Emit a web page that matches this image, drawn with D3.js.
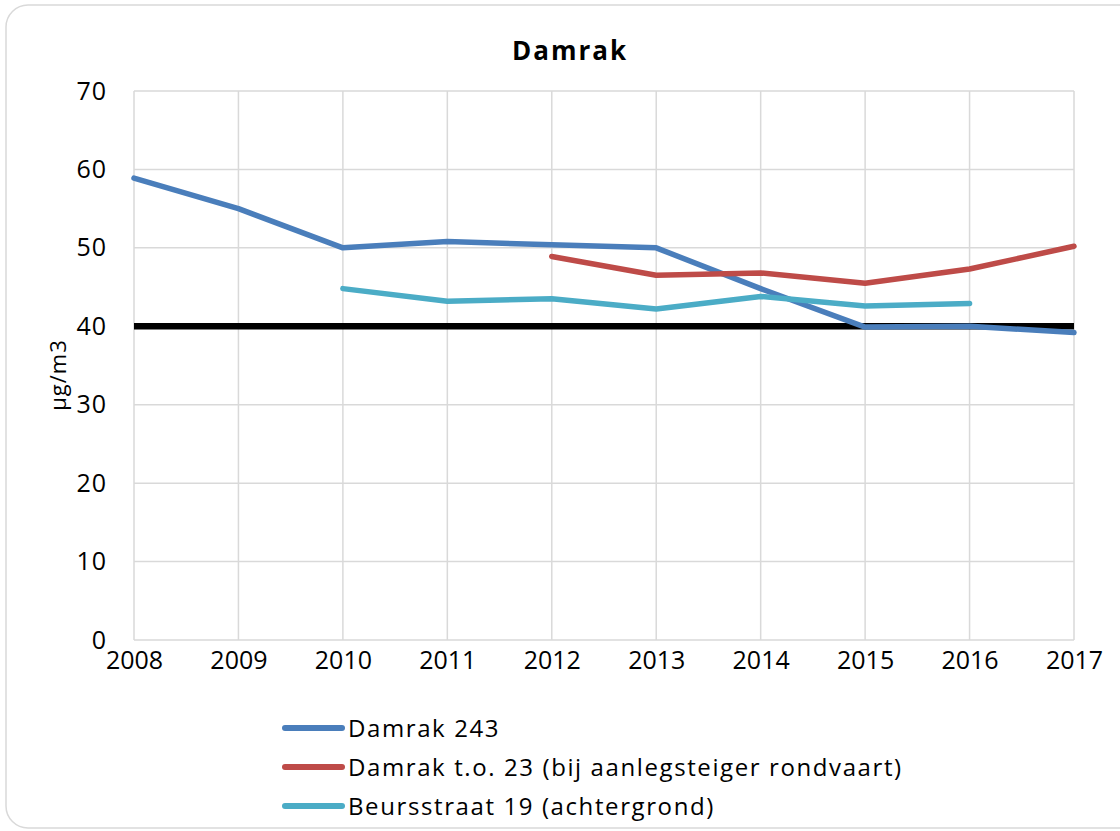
<!DOCTYPE html>
<html>
<head>
<meta charset="utf-8">
<script src="https://cdn.jsdelivr.net/npm/d3@7"></script>
<style>
  body { margin: 0; background: #fff; }
  text { font-family: "Open Sans", "Noto Sans", sans-serif; fill: #000; }
</style>
</head>
<body>
<div id="chart"></div>
<script>
// data
var years = [2008, 2009, 2010, 2011, 2012, 2013, 2014, 2015, 2016, 2017];
var damrak243 = [58.9, 55.0, 50.0, 50.8, 50.4, 50.0, 44.8, 39.9, 40.0, 39.2];
var damrakTo23 = [null, null, null, null, 48.9, 46.5, 46.8, 45.5, 47.3, 50.2];
var beursstraat19 = [null, null, 44.8, 43.2, 43.5, 42.2, 43.8, 42.6, 42.9, null];
var yTicks = [0, 10, 20, 30, 40, 50, 60, 70];
var limitValue = 40;

var seriesNames = ["Damrak 243", "Damrak t.o. 23 (bij aanlegsteiger rondvaart)", "Beursstraat 19 (achtergrond)"];
var seriesColors = ["#4a7ebb", "#be4b48", "#4bacc6"];
var seriesValues = [damrak243, damrakTo23, beursstraat19];

var W = 1120, H = 831;
var margin = {top: 91, right: 46, bottom: 191, left: 134},
    width = W - margin.left - margin.right,
    height = H - margin.top - margin.bottom;

var svg = d3.select("#chart")
  .append("svg")
    .attr("width", W)
    .attr("height", H);

// outer chart frame
svg.append("rect")
  .attr("x", 6).attr("y", 5)
  .attr("width", W + 20).attr("height", H - 8)
  .attr("rx", 22)
  .attr("fill", "#fff")
  .attr("stroke", "#d9d9d9")
  .attr("stroke-width", 1.5);

var chartGroup = svg.append("g")
  .attr("transform", `translate(${margin.left}, ${margin.top})`);

var x = d3.scaleLinear()
  .domain([years[0], years[years.length - 1]])
  .range([0, width]);

var y = d3.scaleLinear()
  .domain([0, 70])
  .range([height, 0]);

// gridlines
chartGroup.append("g")
  .selectAll("line.h")
  .data(yTicks)
  .enter()
  .append("line")
    .attr("x1", 0).attr("x2", width)
    .attr("y1", d => y(d)).attr("y2", d => y(d))
    .attr("stroke", "#d9d9d9").attr("stroke-width", 1.5);

chartGroup.append("g")
  .selectAll("line.v")
  .data(years)
  .enter()
  .append("line")
    .attr("x1", d => x(d)).attr("x2", d => x(d))
    .attr("y1", 0).attr("y2", height)
    .attr("stroke", "#d9d9d9").attr("stroke-width", 1.5);

// axes (labels only, lines come from the grid)
var leftAxis = d3.axisLeft(y).tickValues(yTicks).tickSize(0).tickPadding(27);
var bottomAxis = d3.axisBottom(x).tickValues(years).tickFormat(d3.format("d")).tickSize(0).tickPadding(11);

var yAxisG = chartGroup.append("g").call(leftAxis);
var xAxisG = chartGroup.append("g")
  .attr("transform", `translate(0, ${height})`)
  .call(bottomAxis);

[yAxisG, xAxisG].forEach(function(g) {
  g.select(".domain").remove();
  g.selectAll("text")
    .style("font-family", "'Open Sans', 'Noto Sans', sans-serif")
    .style("font-size", "25px")
    .attr("fill", "#000");
});
yAxisG.selectAll("text").style("letter-spacing", "1px");

// limit line at 40
chartGroup.append("line")
  .attr("x1", 0).attr("x2", width)
  .attr("y1", y(limitValue)).attr("y2", y(limitValue))
  .attr("stroke", "#000")
  .attr("stroke-width", 6.5);

// series lines
var line = d3.line()
  .defined(d => d.v != null)
  .x(d => x(d.year))
  .y(d => y(d.v));

seriesValues.forEach(function(vals, i) {
  var pts = years.map((yr, j) => ({year: yr, v: vals[j]}));
  chartGroup.append("path")
    .datum(pts)
    .attr("d", line)
    .attr("fill", "none")
    .attr("stroke", seriesColors[i])
    .attr("stroke-width", 5.5)
    .attr("stroke-linecap", "round")
    .attr("stroke-linejoin", "round");
});

// title
svg.append("text")
  .attr("x", 570).attr("y", 60)
  .attr("text-anchor", "middle")
  .style("font-size", "26px")
  .style("font-weight", "bold")
  .style("letter-spacing", "2px")
  .text("Damrak");

// y axis label
svg.append("text")
  .attr("transform", "translate(66, 375) rotate(-90)")
  .attr("text-anchor", "middle")
  .style("font-size", "22px")
  .style("letter-spacing", "1px")
  .text("µg/m3");

// legend
var legend = svg.append("g").attr("transform", "translate(285, 728)");
seriesNames.forEach(function(name, i) {
  var row = legend.append("g").attr("transform", `translate(0, ${i * 39})`);
  row.append("line")
    .attr("x1", 0).attr("x2", 57)
    .attr("y1", 0).attr("y2", 0)
    .attr("stroke", seriesColors[i])
    .attr("stroke-width", 6)
    .attr("stroke-linecap", "round");
  row.append("text")
    .attr("x", 63).attr("y", 9)
    .style("font-size", "24px")
    .style("letter-spacing", "1.6px")
    .text(name);
});
</script>
</body>
</html>
